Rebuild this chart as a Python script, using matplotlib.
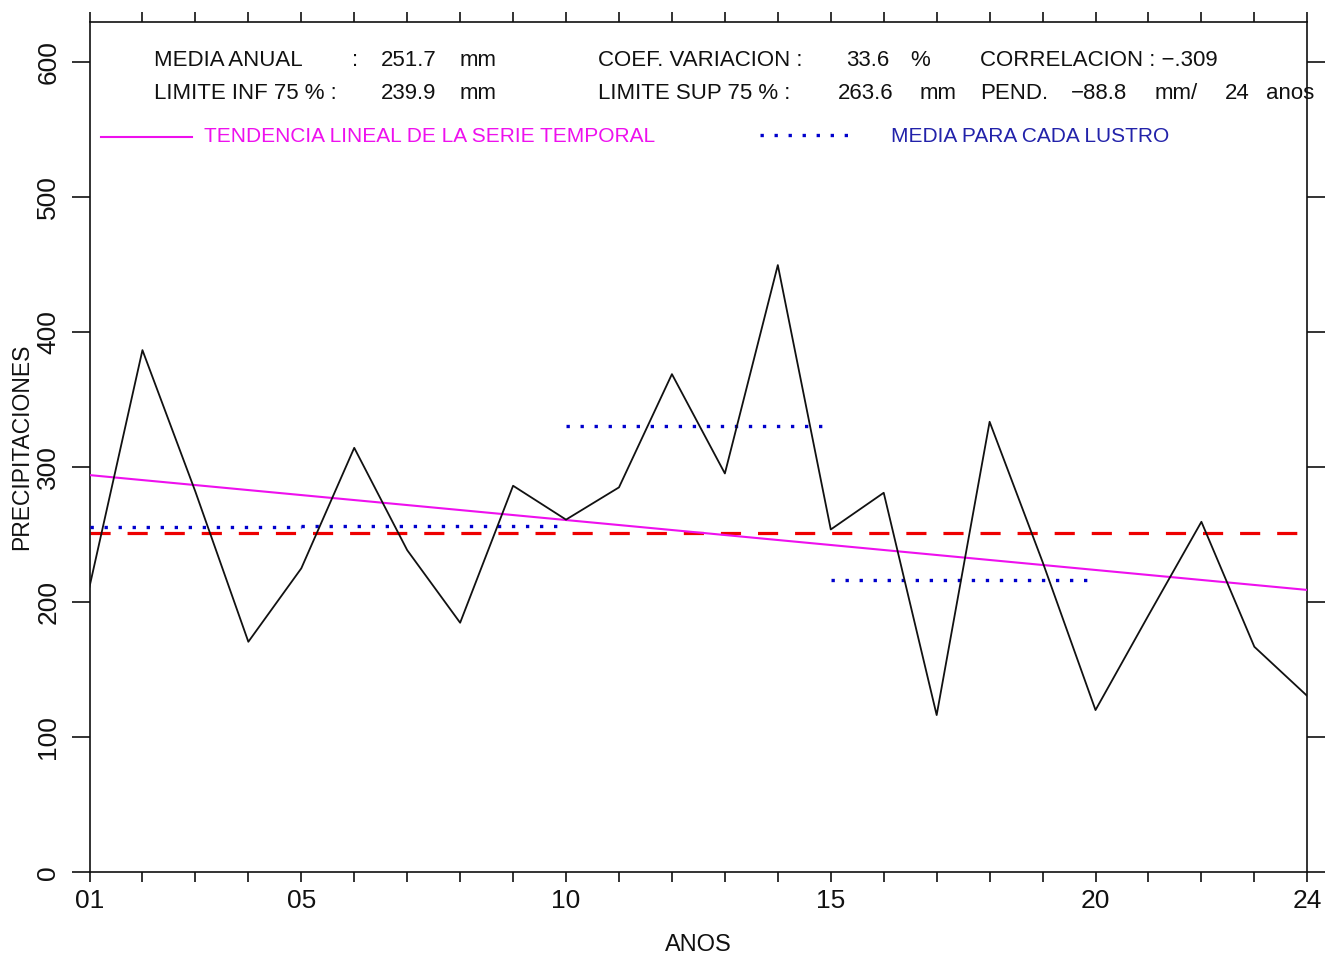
import numpy as np
import matplotlib
matplotlib.use("Agg")
import matplotlib.pyplot as plt

# ---------------- data ----------------
years = np.arange(1, 25)
precip = [211.5, 386.9, 282.0, 170.8, 225.2, 314.5, 238.7, 184.9, 286.4, 261.3,
          285.2, 369.1, 295.5, 449.9, 254.0, 281.2, 116.5, 333.8, 230.0, 120.2,
          190.4, 259.7, 167.1, 130.6]
xtick_vals = [1, 5, 10, 15, 20, 24]
xtick_labels = ["01", "05", "10", "15", "20", "24"]
ytick_vals = [0, 100, 200, 300, 400, 500, 600]
lustro_means = [255.5, 256.5, 330.8, 216.5]
trend_start, trend_end = 294.3, 209.2
media_anual = 251.7
coef_var = 33.6
correlacion = "−.309"
lim_inf = 239.9
lim_sup = 263.6
pendiente = -88.8
n_anos = 24

# ---------------- figure ----------------
W, H = 1325, 958
plt.rcParams['font.family'] = ['Liberation Sans', 'DejaVu Sans']
plt.rcParams['lines.scale_dashes'] = False
fig = plt.figure(figsize=(W / 100, H / 100), dpi=100)

L, R, T, B = 89.5, 1307.3, 22.0, 872.3
ax = fig.add_axes([L / W, 1 - B / H, (R - L) / W, (B - T) / H])
ax.set_xlim(1, 24)
ax.set_ylim(0, 630)

BLACK = "#111111"
MAG = "#ee10ee"
RED = "#ee0000"
BLUE = "#0000cc"
BLUE_TXT = "#2222aa"

# mean line
ax.axhline(media_anual, color=RED, lw=2.3, dashes=(14.5, 12.2), zorder=2)
# lustro means
for i, m in enumerate(lustro_means):
    x0 = max(5 * i, years[0])
    x1 = 5 * (i + 1)
    ax.plot([x0, x1], [m, m], color=BLUE, lw=2.4, dashes=(2.4, 7.7),
            solid_capstyle='butt', dash_capstyle='butt', zorder=3)
# trend
ax.plot([years[0], years[-1]], [trend_start, trend_end], color=MAG, lw=1.5, zorder=4)
# series
ax.plot(years, precip, color=BLACK, lw=1.3, zorder=5)

for s in ax.spines.values():
    s.set_linewidth(1.2)
    s.set_color(BLACK)

ax.set_xticks(xtick_vals)
ax.set_xticklabels(xtick_labels, fontsize=19)
ax.set_xticks(years, minor=True)
ax.tick_params(axis='x', which='both', direction='out', length=7, width=1.2,
               top=True, bottom=True, labeltop=False, pad=5, colors=BLACK)
ax.set_yticks(ytick_vals)
ax.set_yticklabels([str(v) for v in ytick_vals], rotation=90, va='center', fontsize=19)
ax.tick_params(axis='y', which='major', direction='out', length=13, width=1.2,
               left=True, right=True, labelright=False, pad=8, colors=BLACK)


def ftext(x, y, s, **kw):
    kw.setdefault('fontsize', 16)
    kw.setdefault('color', BLACK)
    kw.setdefault('ha', 'left')
    kw.setdefault('va', 'baseline')
    fig.text(x / W, 1 - y / H, s, **kw)


# axis labels
ftext(22, 447, "PRECIPITACIONES", rotation=90, ha='center', va='center', fontsize=16.5)
ftext(698, 945, "ANOS", ha='center', va='center', fontsize=17)

# statistics block
r1, r2 = 65.5, 99.0
ftext(154, r1, "MEDIA ANUAL")
ftext(352, r1, ":")
ftext(381, r1, f"{media_anual:.1f}")
ftext(460, r1, "mm")
ftext(598, r1, "COEF. VARIACION :")
ftext(846, r1, f"{coef_var:.1f}")
ftext(910, r1, "%")
ftext(980, r1, f"CORRELACION : {correlacion}")

ftext(154, r2, "LIMITE INF 75 % :")
ftext(381, r2, f"{lim_inf:.1f}")
ftext(460, r2, "mm")
ftext(598, r2, "LIMITE SUP 75 % :")
ftext(838, r2, f"{lim_sup:.1f}")
ftext(920, r2, "mm")
ftext(980, r2, "PEND.")
ftext(1071, r2, f"{pendiente:.1f}".replace("-", "−"))
ftext(1155, r2, "mm/")
ftext(1225, r2, f"{n_anos}")
ftext(1266, r2, "anos")

# legend
leg_y = 136.5
fig.add_artist(plt.Line2D([101 / W, 192 / W], [1 - leg_y / H, 1 - leg_y / H],
                          color=MAG, lw=1.5))
ftext(204, 141.5, "TENDENCIA LINEAL DE LA SERIE TEMPORAL", color=MAG, fontsize=15)
fig.add_artist(plt.Line2D([760 / W, 857 / W], [1 - 135 / H, 1 - 135 / H],
                          color=BLUE, lw=2.4, dashes=(2.4, 7.7),
                          dash_capstyle='butt'))
ftext(891, 141.5, "MEDIA PARA CADA LUSTRO", color=BLUE_TXT, fontsize=15)

fig.savefig("out.png", dpi=100)
